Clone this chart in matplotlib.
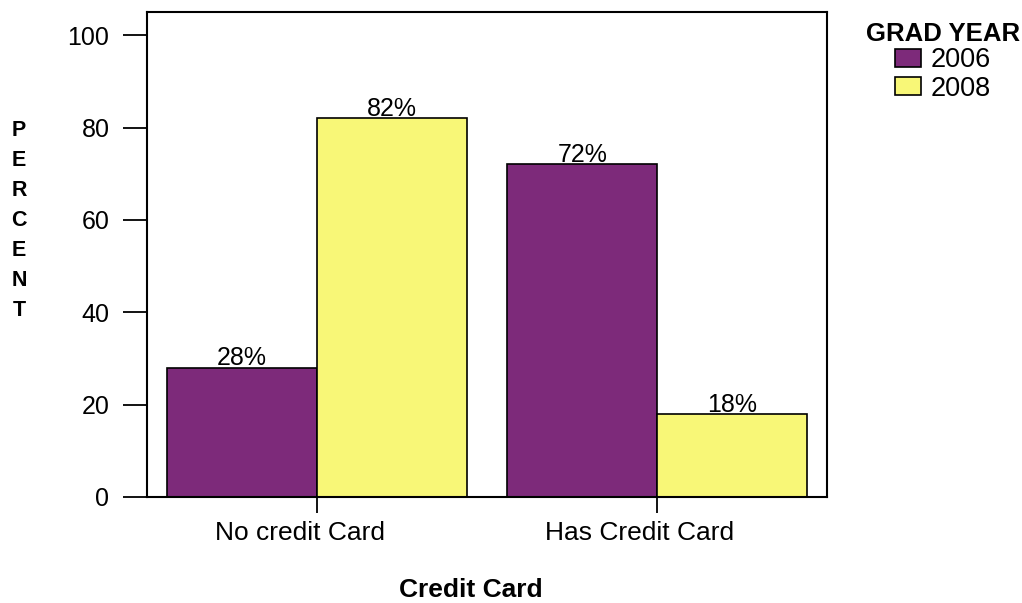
import matplotlib.pyplot as plt
import matplotlib.transforms as mtransforms
import numpy as np

plt.rcParams["font.family"] = ["Liberation Sans", "DejaVu Sans"]

categories = ["No credit Card", "Has Credit Card"]
years = ["2006", "2008"]
percent_2006 = [28, 72]
percent_2008 = [82, 18]
colors = {"2006": "#7d2a7a", "2008": "#f8f777"}

fig = plt.figure(figsize=(10.22, 6.03), dpi=100)
ax = fig.add_axes([0.1438, 0.1758, 0.6654, 0.8042])

x = np.arange(len(categories))
width = 0.44
bars_a = ax.bar(x - width / 2, percent_2006, width, color=colors["2006"],
                edgecolor="black", linewidth=1.2, label=years[0])
bars_b = ax.bar(x + width / 2, percent_2008, width, color=colors["2008"],
                edgecolor="black", linewidth=1.2, label=years[1])
for bars in (bars_a, bars_b):
    ax.bar_label(bars, fmt="%d%%", padding=-2, fontsize=18)

ax.set_xlim(-0.5, 1.5)
ax.set_ylim(0, 105)
ax.set_yticks([0, 20, 40, 60, 80, 100])
ax.set_xticks(x)
ax.set_xticklabels(categories)
ax.tick_params(axis="y", length=17, width=1.3, labelsize=18, pad=10)
ax.tick_params(axis="x", length=11.5, width=1.3, labelsize=19, pad=6)
for spine in ax.spines.values():
    spine.set_linewidth(1.5)

# category labels sit a little left of their ticks
shift = mtransforms.ScaledTranslation(-0.17, 0, fig.dpi_scale_trans)
for lbl in ax.get_xticklabels():
    lbl.set_transform(lbl.get_transform() + shift)

fig.text(471 / 1022, 1 - 590 / 603, "Credit Card", ha="center", va="center",
         fontsize=19, fontweight="bold")

# vertical axis title, one letter per row
for i, ch in enumerate("PERCENT"):
    fig.text(19 / 1022, 1 - (131 + 30 * i) / 603, ch, ha="center",
             va="center", fontsize=15.5, fontweight="bold")

leg = ax.legend(loc="upper right", bbox_to_anchor=(1020 / 1022, 1 - 22 / 603),
                bbox_transform=fig.transFigure, frameon=False,
                title="GRAD YEAR", fontsize=19.5, handlelength=0.95,
                handleheight=0.62, handletextpad=0.35, labelspacing=0.08,
                borderaxespad=0, borderpad=0)
leg.get_title().set_fontweight("bold")
leg.get_title().set_fontsize(18.5)
leg._legend_box.sep = 1

fig.savefig("out.png", dpi=100)
